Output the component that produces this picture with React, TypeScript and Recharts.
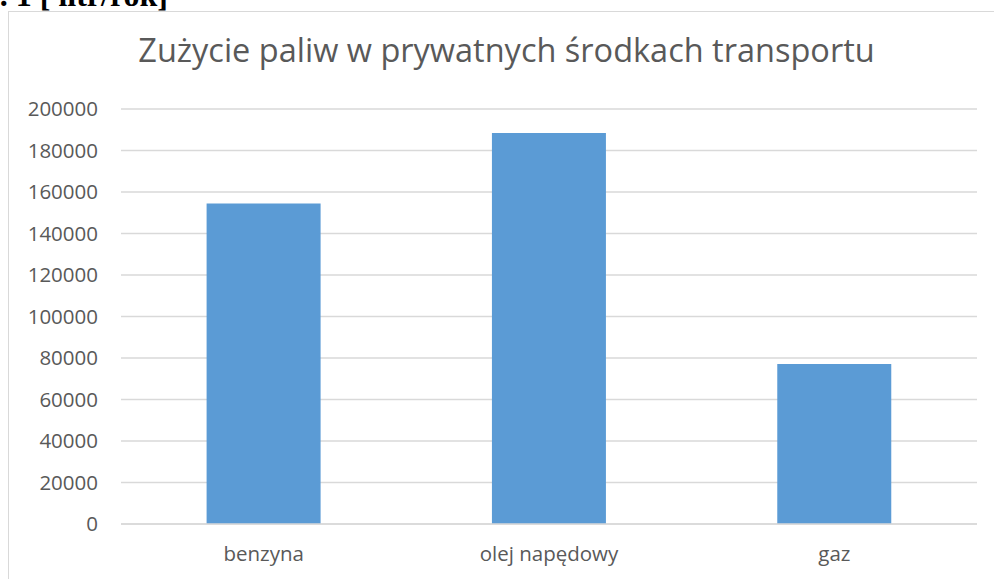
import React from "react";
import { BarChart, Bar, XAxis, YAxis, CartesianGrid } from "recharts";

// zużycie paliw [litr/rok]
const categories = ["benzyna", "olej napędowy", "gaz"];
const values = [154400, 188400, 77100];
const yTicks = [0, 20000, 40000, 60000, 80000, 100000, 120000, 140000, 160000, 180000, 200000];

const data = categories.map((name, i) => ({ name, value: values[i] }));

const font = "'Open Sans', Lato, sans-serif";
const textColor = "#595959";

const App = () => {
  return (
    <div
      style={{
        position: "absolute",
        left: 0,
        top: 0,
        width: 994,
        height: 579,
        overflow: "hidden",
        background: "#fff",
      }}
    >
      {/* caption cut off at the top of the page */}
      <div
        style={{
          position: "absolute",
          right: 826,
          top: -20.8,
          fontFamily: "'Liberation Serif', serif",
          fontWeight: "bold",
          fontSize: 32,
          lineHeight: 1,
          whiteSpace: "nowrap",
          color: "#000",
        }}
      >
        Rys. 1 [ litr/rok]
      </div>
      {/* chart frame */}
      <div
        style={{
          position: "absolute",
          left: 8,
          top: 11,
          width: 1000,
          height: 600,
          border: "1px solid #D9D9D9",
          boxSizing: "border-box",
        }}
      />
      <div
        style={{
          position: "absolute",
          left: 0,
          top: 34.1,
          width: 1013,
          textAlign: "center",
          fontFamily: font,
          fontSize: 32.5,
          lineHeight: 1,
          color: textColor,
          whiteSpace: "nowrap",
        }}
      >
        Zużycie paliw w prywatnych środkach transportu
      </div>
      <div style={{ position: "absolute", left: 0, top: 0 }}>
        <BarChart
          width={994}
          height={579}
          data={data}
          margin={{ top: 109, right: 17, bottom: 5, left: 61 }}
          barCategoryGap="30%"
        >
          <CartesianGrid vertical={false} stroke="#D9D9D9" strokeWidth={1.3} />
          <XAxis
            dataKey="name"
            height={50}
            tickLine={false}
            tickSize={0}
            tickMargin={22}
            axisLine={{ stroke: "#D9D9D9", strokeWidth: 1.3 }}
            tick={{ fill: textColor, fontSize: 20.5, fontFamily: font }}
          />
          <YAxis
            width={60}
            domain={[0, 200000]}
            ticks={yTicks}
            interval={0}
            axisLine={false}
            tickLine={false}
            tickSize={0}
            tickMargin={23}
            tick={{ fill: textColor, fontSize: 20.5, fontFamily: font }}
          />
          <Bar dataKey="value" fill="#5B9BD5" isAnimationActive={false} />
        </BarChart>
      </div>
    </div>
  );
};

export default App;
